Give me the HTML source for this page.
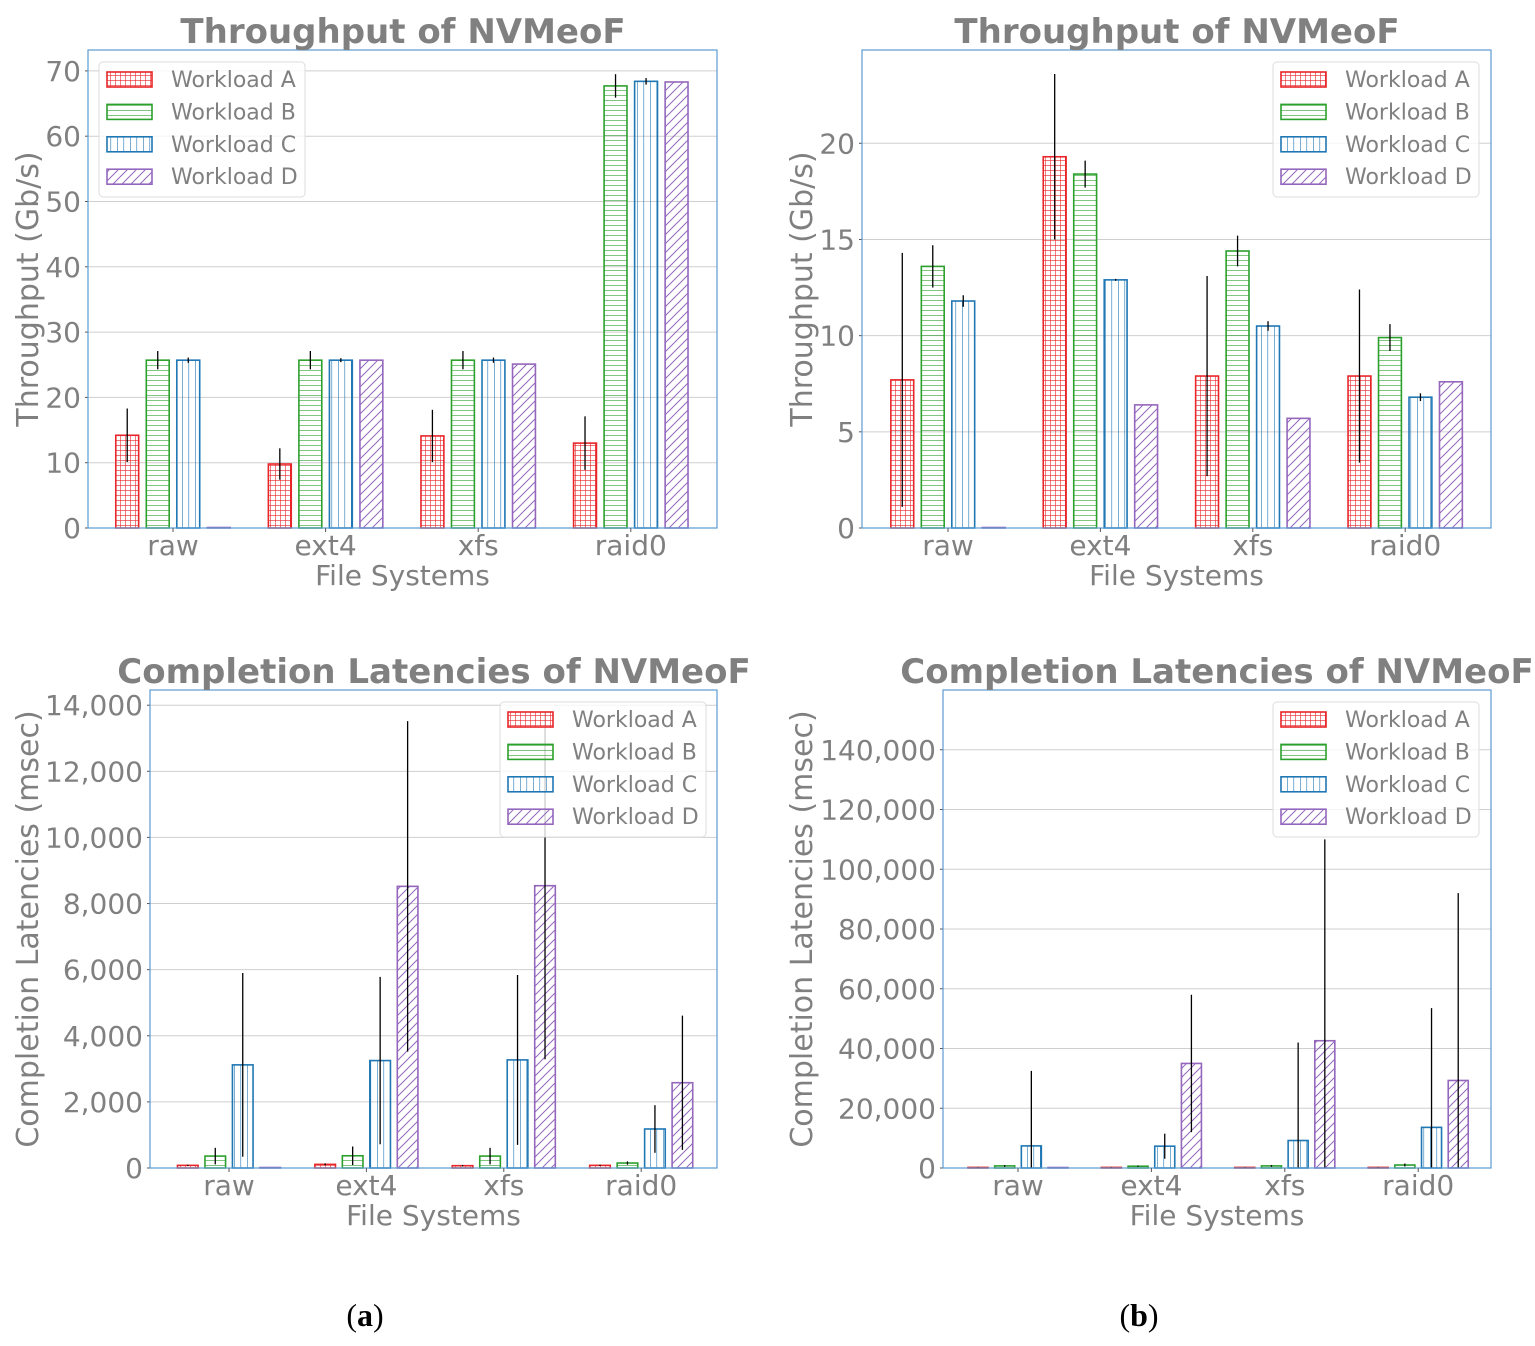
<!DOCTYPE html>
<html><head><meta charset="utf-8">
<style>
html,body{margin:0;padding:0;background:#fff;}
body{width:1535px;height:1346px;overflow:hidden;}
svg{display:block;font-family:"DejaVu Sans","Liberation Sans",sans-serif;}
</style></head>
<body>
<svg id="fig" width="1535" height="1346" viewBox="0 0 1535 1346" xmlns="http://www.w3.org/2000/svg">
<defs>
<pattern id="hA" width="5" height="5" patternUnits="userSpaceOnUse"><path d="M0 0H5M0 0V5" stroke="#e8262a" stroke-width="1.2" fill="none"/></pattern>
<pattern id="hB" width="5" height="5" patternUnits="userSpaceOnUse"><path d="M0 0H5" stroke="#2ca02c" stroke-width="1.2" fill="none"/></pattern>
<pattern id="hC" width="6.5" height="6" patternUnits="userSpaceOnUse"><path d="M0 0V6" stroke="#1f77b4" stroke-width="1.2" fill="none"/></pattern>
<pattern id="hD" width="9" height="9" patternUnits="userSpaceOnUse"><path d="M-2 11L11 -2M-2 2L2 -2M7 11L11 7" stroke="#9467bd" stroke-width="1" fill="none"/></pattern>
</defs>
<text x="365" y="1326" font-family="Liberation Serif,serif" font-size="32" text-anchor="middle">(<tspan font-weight="bold">a</tspan>)</text>
<text x="1139" y="1326" font-family="Liberation Serif,serif" font-size="32" text-anchor="middle">(<tspan font-weight="bold">b</tspan>)</text>
</svg>
<script>
const categories = ["raw","ext4","xfs","raid0"];
const seriesNames = ["Workload A","Workload B","Workload C","Workload D"];
// Panel 1: throughput (a)
const p1Values = [[14.2,9.8,14.1,13.0],[25.7,25.7,25.7,67.7],[25.7,25.7,25.7,68.4],[0,25.7,25.1,68.3]];
const p1Err = [[4.1,2.4,4.0,4.1],[1.4,1.4,1.4,1.8],[0.4,0.3,0.4,0.5],[0,0,0,0]];
const p1Ticks = [0,10,20,30,40,50,60,70];
// Panel 2: throughput (b)
const p2Values = [[7.7,19.3,7.9,7.9],[13.6,18.4,14.4,9.9],[11.8,12.9,10.5,6.8],[0,6.4,5.7,7.6]];
const p2Err = [[6.6,4.3,5.2,4.5],[1.1,0.7,0.8,0.7],[0.3,0.05,0.25,0.2],[0,0,0,0]];
const p2Ticks = [0,5,10,15,20];
// Panel 3: latencies (a)
const p3Values = [[80,110,70,80],[360,370,360,150],[3120,3250,3270,1180],[0,8520,8540,2580]];
const p3Err = [[20,30,20,20],[250,280,250,50],[2780,2530,2570,720],[0,5000,5250,2030]];
const p3Ticks = [0,2000,4000,6000,8000,10000,12000,14000];
// Panel 4: latencies (b)
const p4Values = [[200,200,200,200],[700,600,700,1000],[7400,7300,9200,13600],[0,35000,42600,29300]];
const p4Err = [[100,100,100,100],[300,200,300,500],[25100,4200,32800,39900],[0,23000,67400,62700]];
const p4Ticks = [0,20000,40000,60000,80000,100000,120000,140000];

const NS="http://www.w3.org/2000/svg";
const svg=document.getElementById('fig');
const colors=["#e8262a","#2ca02c","#1f77b4","#9467bd"];
const pats=["hA","hB","hC","hD"];
function mk(tag,attrs,parent){const e=document.createElementNS(NS,tag);for(const k in attrs)e.setAttribute(k,attrs[k]);(parent||svg).appendChild(e);return e;}
function fmt(v){return v.toLocaleString('en-US');}

function panel(cfg){
  const g=mk('g',{});
  
  
  const {x0,x1,y0,y1,ymax}=cfg;
  const ys=v=>y1-(v/ymax)*(y1-y0);
  const xs=i=>cfg.c0+i*cfg.sp;
  cfg.ticks.forEach(t=>{
    const y=ys(t);
    const gl=mk('line',{x1:x0,x2:x1,y1:y,y2:y,stroke:'#cfcfcf','stroke-width':1},g);
    
    
    const tk=mk('line',{x1:x0-3,x2:x0,y1:y,y2:y,stroke:'#555'},g);
    
    
    const tl=mk('text',{x:x0-7,y:y+10,'font-size':28,fill:'#808080','text-anchor':'end'},g);
    
    
    tl.textContent=fmt(t);
  });
  const bw=cfg.sp*0.15, off=cfg.sp*0.2;
  for(let s=0;s<4;s++){
    for(let i=0;i<categories.length;i++){
      const v=cfg.vals[s][i];
      const cx=xs(i)+(s-1.5)*off;
      const yt=ys(v);
      const r=mk('rect',{x:cx-bw/2,y:Math.min(yt,y1-0.5),width:bw,height:Math.max(0.5,y1-yt),fill:'url(#'+pats[s]+')',stroke:colors[s],'stroke-width':1.6},g);
      
      
      const e=cfg.err[s][i];
      if(e>0){
        const el=mk('line',{x1:cx,x2:cx,y1:ys(Math.max(0,v-e)),y2:ys(v+e),stroke:'#000','stroke-width':1.3},g);
        
        
      }
    }
  }
  const fr=mk('rect',{x:x0,y:y0,width:x1-x0,height:y1-y0,fill:'none',stroke:'#5b9bd0','stroke-width':1.2},g);
  
  
  categories.forEach((c,i)=>{
    const tm=mk('line',{x1:xs(i),x2:xs(i),y1:y1,y2:y1+4,stroke:'#555'},g);
    
    
    const t=mk('text',{x:xs(i),y:y1+27,'font-size':28,fill:'#808080','text-anchor':'middle'},g);
    
    
    t.textContent=c;
  });
  const xl=mk('text',{x:(x0+x1)/2,y:y1+57,'font-size':28,fill:'#808080','text-anchor':'middle'},g);
  
  
  xl.textContent='File Systems';
  const yl=mk('text',{x:0,y:0,'font-size':30,fill:'#808080','text-anchor':'middle',transform:`translate(${cfg.ylx},${(y0+y1)/2}) rotate(-90)`},g);
  
  
  yl.textContent=cfg.ylabel;
  const ti=mk('text',{x:cfg.tx,y:y0-7,'font-size':34,'font-weight':'bold',fill:'#808080','text-anchor':'middle'},g);
  
  
  ti.textContent=cfg.title;
  const lg=mk('g',{},g);
  
  
  mk('rect',{x:cfg.lx,y:cfg.ly,width:206,height:135,rx:4,fill:'#fff','fill-opacity':0.8,stroke:'#dddddd'},lg);
  seriesNames.forEach((n,s)=>{
    const yy=cfg.ly+17+s*32.4;
    const le=mk('g',{},lg);
    
    
    mk('rect',{x:cfg.lx+8,y:yy-7,width:45,height:15,fill:'url(#'+pats[s]+')',stroke:colors[s],'stroke-width':1.6},le);
    const lt=mk('text',{x:cfg.lx+72,y:yy+8,'font-size':22,fill:'#808080'},le);
    lt.textContent=n;
  });
}
panel({name:'chart-throughput-a',x0:88,x1:717,y0:50,y1:528,ymax:73.2,c0:173,sp:152.6,vals:p1Values,err:p1Err,ticks:p1Ticks,ylabel:'Throughput (Gb/s)',ylx:38,tx:403,title:'Throughput of NVMeoF',lx:99,ly:62});
panel({name:'chart-throughput-b',x0:862,x1:1491,y0:50,y1:528,ymax:24.85,c0:948,sp:152.4,vals:p2Values,err:p2Err,ticks:p2Ticks,ylabel:'Throughput (Gb/s)',ylx:812,tx:1177,title:'Throughput of NVMeoF',lx:1273,ly:62});
panel({name:'chart-latency-a',x0:150,x1:717,y0:690,y1:1168,ymax:14460,c0:229,sp:137.4,vals:p3Values,err:p3Err,ticks:p3Ticks,ylabel:'Completion Latencies (msec)',ylx:38,tx:434,title:'Completion Latencies of NVMeoF',lx:500,ly:702});
panel({name:'chart-latency-b',x0:943,x1:1491,y0:690,y1:1168,ymax:160000,c0:1018,sp:133.4,vals:p4Values,err:p4Err,ticks:p4Ticks,ylabel:'Completion Latencies (msec)',ylx:812,tx:1217,title:'Completion Latencies of NVMeoF',lx:1273,ly:702});
</script>
</body></html>
